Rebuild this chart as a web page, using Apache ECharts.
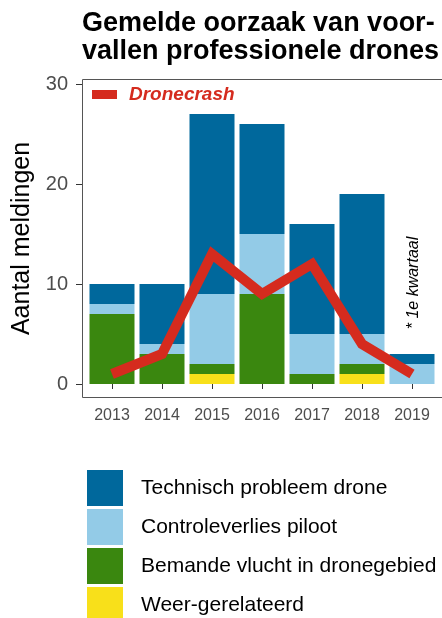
<!DOCTYPE html>
<html><head><meta charset="utf-8">
<script src="https://cdn.jsdelivr.net/npm/echarts@6/dist/echarts.min.js"></script>
<style>html,body{margin:0;padding:0;background:#fff}#c{width:442px;height:618px}</style>
</head><body><div id="c"></div>
<script>
const years = ['2013','2014','2015','2016','2017','2018','2019'];
const weer = [0,0,1,0,0,1,0];
const bemande = [7,3,1,9,1,1,0];
const controle = [1,1,7,6,4,3,2];
const technisch = [2,6,18,11,11,14,1];
const dronecrash = [1,3,13,9,12,4,1];
const yTicks = [0,10,20,30];

const FONT = 'Liberation Sans';
const chart = echarts.init(document.getElementById('c'), null, {renderer:'canvas'});
const barBase = {type:'bar', stack:'total', barWidth:45, xAxisIndex:0, yAxisIndex:0};
chart.setOption({
  animation:false,
  textStyle:{fontFamily:FONT},
  title:{text:'Gemelde oorzaak van voor-\nvallen professionele drones', left:77, top:5,
    textStyle:{fontFamily:FONT, fontSize:27, fontWeight:'bold', color:'#000', lineHeight:28}},
  grid:{left:87, width:350, top:79, height:319, containLabel:false},
  xAxis:{type:'category', data:years, boundaryGap:true,
    axisLine:{show:false}, axisTick:{show:true, alignWithLabel:true, length:5, lineStyle:{color:'#333'}},
    axisLabel:{color:'#4d4d4d', fontSize:16, margin:10, fontFamily:FONT}, splitLine:{show:false}},
  yAxis:{type:'value', min:-1.4, max:30.5, offset:5,
    name:'Aantal meldingen', nameLocation:'middle', nameRotate:90, nameGap:43,
    nameTextStyle:{fontSize:25, color:'#000', fontFamily:FONT},
    axisLine:{show:false}, splitLine:{show:false},
    axisTick:{show:true, length:6, customValues:yTicks, lineStyle:{color:'#333'}},
    axisLabel:{show:true, customValues:yTicks, fontSize:20, color:'#4d4d4d', margin:14, fontFamily:FONT}},
  legend:[
    {data:['Dronecrash'], left:92, top:85, padding:0, icon:'rect', itemWidth:25, itemHeight:9,
      textStyle:{color:'#d52b1e', fontSize:19, fontStyle:'italic', fontWeight:'bold', fontFamily:FONT, padding:[0,0,0,7]}},
    {data:['Technisch probleem drone','Controleverlies piloot','Bemande vlucht in dronegebied','Weer-gerelateerd'],
      orient:'vertical', left:87, top:470, height:200, width:360, padding:0, icon:'rect', itemWidth:36, itemHeight:36, itemGap:3,
      textStyle:{color:'#000', fontSize:21, fontFamily:FONT, padding:[0,0,0,13]}}
  ],
  graphic:[
    {type:'rect', shape:{x:82.5, y:79.5, width:362, height:318}, style:{fill:null, stroke:'#555', lineWidth:1}, silent:true, z:100},
    {type:'text', x:414, y:283, rotation:Math.PI/2, style:{text:'* 1e kwartaal', fill:'#000', fontSize:16, fontStyle:'italic', fontFamily:FONT, align:'center', verticalAlign:'middle'}}
  ],
  series:[
    Object.assign({name:'Weer-gerelateerd', data:weer, itemStyle:{color:'#f8e01a'}}, barBase),
    Object.assign({name:'Bemande vlucht in dronegebied', data:bemande, itemStyle:{color:'#3a870f'}}, barBase),
    Object.assign({name:'Controleverlies piloot', data:controle, itemStyle:{color:'#93cbe7'}}, barBase),
    Object.assign({name:'Technisch probleem drone', data:technisch, itemStyle:{color:'#00689c'}}, barBase),
    {name:'Dronecrash', type:'line', data:dronecrash, symbol:'none', z:10,
      lineStyle:{color:'#d52b1e', width:10, join:'miter', cap:'butt'}, itemStyle:{color:'#d52b1e'}}
  ]
});
</script></body></html>
